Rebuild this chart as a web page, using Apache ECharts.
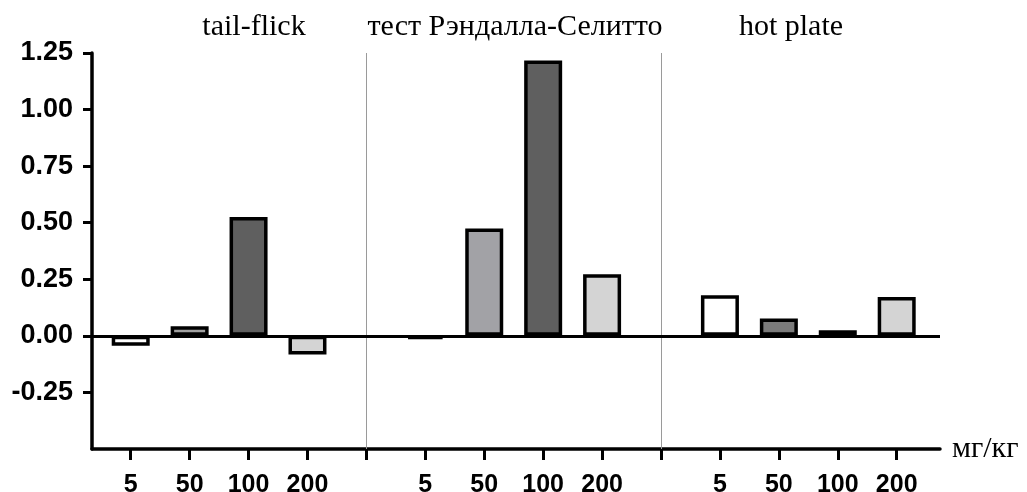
<!DOCTYPE html>
<html>
<head>
<meta charset="utf-8">
<script src="https://cdn.jsdelivr.net/npm/echarts@6/dist/echarts.min.js"></script>
<style>html,body{margin:0;padding:0;background:#fff}#c{width:1027px;height:492px}</style>
</head>
<body>
<div id="c"></div>
<script>
// ---- data ----
const doseLabels = ['5', '50', '100', '200'];
const groupTitles = ['tail-flick', 'тест Рэндалла-Селитто', 'hot plate'];
const tailFlick = [-0.044, 0.043, 0.525, -0.082];
const randallSelitto = [-0.015, 0.474, 1.217, 0.272];
const hotPlate = [0.18, 0.077, 0.025, 0.172];
const yTickValues = [-0.25, 0, 0.25, 0.5, 0.75, 1.0, 1.25];
const unitLabel = 'мг/кг';

// ---- styles ----
const groupFills = [
  ['#ffffff', '#a0a0a0', '#5f5f5f', '#d4d4d4'],
  ['#ffffff', '#a2a2a6', '#5f5f5f', '#d4d4d4'],
  ['#ffffff', '#7b7b7b', '#5f5f5f', '#d4d4d4']
];
const titleCenters = [254, 515, 791];

const groups = [tailFlick, randallSelitto, hotPlate];
const slot = 5; // 4 doses + 1 gap slot per group
const barData = [];
groups.forEach((g, gi) => {
  g.forEach((v, di) => {
    barData.push({ value: [gi * slot + di, v], itemStyle: { color: groupFills[gi][di] } });
  });
});
const tickPositions = [];
const labelPositions = [];
for (let i = 0; i < groups.length * slot - 1; i++) {
  tickPositions.push(i);
  if (i % slot !== slot - 1) labelPositions.push(i);
}
const separators = [];
for (let gi = 1; gi < groups.length; gi++) separators.push({ xAxis: gi * slot - 1 });

const chart = echarts.init(document.getElementById('c'), null, { renderer: 'canvas' });
chart.setOption({
  animation: false,
  backgroundColor: '#ffffff',
  grid: { left: 92, right: 87, top: 53, bottom: 43, containLabel: false, outerBoundsMode: 'none' },
  xAxis: {
    type: 'value',
    min: -0.657,
    max: 13.735,
    name: unitLabel,
    nameLocation: 'end',
    nameGap: 12,
    nameTextStyle: { fontFamily: 'Liberation Serif', fontSize: 30, color: '#000', verticalAlign: 'middle', padding: [0, 0, 4, 0] },
    axisLine: { show: true, onZero: false, lineStyle: { color: '#000', width: 3.5 } },
    axisTick: { show: true, customValues: tickPositions, length: 11, lineStyle: { color: '#000', width: 3 } },
    axisLabel: {
      customValues: labelPositions,
      formatter: v => doseLabels[Math.round(v) % slot],
      fontFamily: 'Liberation Sans', fontWeight: 'bold', fontSize: 25, color: '#000', margin: 24
    },
    splitLine: { show: false }
  },
  yAxis: {
    type: 'value',
    min: -0.5,
    max: 1.25,
    interval: 0.25,
    axisLine: { show: true, onZero: false, lineStyle: { color: '#000', width: 3.5 } },
    axisTick: { show: true, customValues: yTickValues, length: 9, lineStyle: { color: '#000', width: 3 } },
    axisLabel: {
      customValues: yTickValues,
      formatter: v => v.toFixed(2),
      fontFamily: 'Liberation Sans', fontWeight: 'bold', fontSize: 27, color: '#000', margin: 19
    },
    splitLine: { show: false }
  },
  graphic: groupTitles.map((t, i) => ({
    type: 'text',
    x: titleCenters[i],
    y: 27,
    style: { text: t, textAlign: 'center', textVerticalAlign: 'middle', font: '30px "Liberation Serif"', fill: '#000' },
    silent: true
  })),
  series: [
    {
      type: 'bar',
      barWidth: 38,
      data: barData,
      itemStyle: { borderColor: '#000', borderWidth: 3.5 },
      markLine: {
        silent: true,
        symbol: 'none',
        label: { show: false },
        data: [
          ...separators.map(s => Object.assign({ lineStyle: { color: '#9a9a9a', width: 1, type: 'solid' } }, s)),
          { yAxis: 0, lineStyle: { color: '#000', width: 3, type: 'solid' } }
        ]
      }
    }
  ]
});
</script>
</body>
</html>
